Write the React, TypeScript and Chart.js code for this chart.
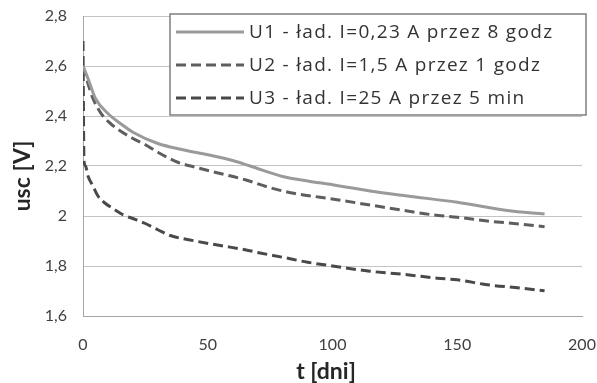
import { useEffect, useRef } from "react";
import { Chart, registerables } from "chart.js";
Chart.register(...registerables);

const seriesLabels = [
  "U1 - ład. I=0,23 A przez 8 godz",
  "U2 - ład. I=1,5 A przez 1 godz",
  "U3 - ład. I=25 A przez 5 min",
];

const u1Days = [0, 2, 5, 10, 15, 20, 30, 40, 50, 60, 67, 80, 90, 100, 115, 130, 150, 170, 185];
const u1Volts = [2.6, 2.55, 2.47, 2.41, 2.37, 2.335, 2.29, 2.265, 2.245, 2.222, 2.2, 2.158, 2.14, 2.125, 2.1, 2.08, 2.055, 2.022, 2.008];

const u2Days = [0, 2, 4, 6, 8, 11, 15, 20, 25, 30, 38, 45, 55, 65, 75, 85, 95, 105, 115, 130, 140, 150, 162, 175, 185];
const u2Volts = [2.6, 2.53, 2.47, 2.43, 2.4, 2.37, 2.34, 2.31, 2.285, 2.255, 2.215, 2.195, 2.17, 2.145, 2.113, 2.09, 2.075, 2.06, 2.044, 2.02, 2.005, 1.995, 1.98, 1.968, 1.957];

const u3Days = [0, 0.4, 1, 2, 4, 6, 9, 12, 16, 20, 25, 30, 35, 45, 55, 65, 71, 80, 90, 100, 115, 130, 142, 150, 162, 175, 185];
const u3Volts = [2.7, 2.22, 2.2, 2.16, 2.12, 2.08, 2.05, 2.03, 2.005, 1.99, 1.97, 1.945, 1.922, 1.9, 1.882, 1.865, 1.852, 1.835, 1.815, 1.8, 1.779, 1.765, 1.751, 1.745, 1.725, 1.712, 1.701];

const yTickLabels = ["1,6", "1,8", "2", "2,2", "2,4", "2,6", "2,8"];
const xTickValues = [0, 50, 100, 150, 200];
const xTitle = "t [dni]";
const yTitle = "usc [V]";

const toPoints = (xs: number[], ys: number[]) => xs.map((x, i) => ({ x, y: ys[i] }));

const FONT = "Lato, 'Open Sans', sans-serif";
const LEGEND_FONT = "'Open Sans', Lato, sans-serif";

const overlayPlugin = {
  id: "overlay",
  afterDraw(chart: any) {
    const ctx = chart.ctx;
    ctx.save();
    ctx.font = `bold 23px ${FONT}`;
    ctx.fillStyle = "#262626";
    ctx.textAlign = "center";
    ctx.textBaseline = "middle";
    ctx.fillText(xTitle, 326, 372);
    ctx.translate(23, 176);
    ctx.rotate(-Math.PI / 2);
    ctx.fillText(yTitle, 0, 0);
    ctx.restore();

    ctx.save();
    const bx = 170, by = 14, bw = 416, bh = 101;
    ctx.fillStyle = "#ffffff";
    ctx.fillRect(bx, by, bw, bh);
    ctx.strokeStyle = "#7f7f7f";
    ctx.lineWidth = 1.5;
    ctx.strokeRect(bx, by, bw, bh);
    const rows = [32, 65, 98];
    chart.data.datasets.forEach((ds: any, i: number) => {
      const y = rows[i];
      ctx.beginPath();
      ctx.setLineDash(ds.borderDash || []);
      ctx.strokeStyle = ds.borderColor;
      ctx.lineWidth = ds.borderWidth;
      ctx.moveTo(176, y);
      ctx.lineTo(244, y);
      ctx.stroke();
      ctx.setLineDash([]);
      ctx.font = `19px ${LEGEND_FONT}`;
      try { (ctx as any).letterSpacing = "1.3px"; } catch (e) {}
      ctx.fillStyle = "#333333";
      ctx.textAlign = "left";
      ctx.textBaseline = "middle";
      ctx.fillText(ds.label, 249, y + 1);
      try { (ctx as any).letterSpacing = "0px"; } catch (e) {}
    });
    ctx.restore();
  },
};

export default function App() {
  const ref = useRef<HTMLCanvasElement | null>(null);
  useEffect(() => {
    if (!ref.current) return;
    const chart = new Chart(ref.current, {
      type: "line",
      data: {
        datasets: [
          {
            label: seriesLabels[0],
            data: toPoints(u1Days, u1Volts),
            borderColor: "#9a9a9a",
            borderWidth: 3,
            pointRadius: 0,
            cubicInterpolationMode: "monotone",
          },
          {
            label: seriesLabels[1],
            data: toPoints(u2Days, u2Volts),
            borderColor: "#5e5e5e",
            borderWidth: 3,
            borderDash: [10, 5],
            pointRadius: 0,
            cubicInterpolationMode: "monotone",
          },
          {
            label: seriesLabels[2],
            data: toPoints(u3Days, u3Volts),
            borderColor: "#494949",
            borderWidth: 3,
            borderDash: [10, 5],
            pointRadius: 0,
            cubicInterpolationMode: "monotone",
          },
        ] as any,
      },
      options: {
        responsive: false,
        animation: false,
        layout: { padding: { top: 16, right: 15, left: 0, bottom: 0 } },
        plugins: { legend: { display: false }, tooltip: { enabled: false } },
        scales: {
          x: {
            type: "linear",
            min: 0,
            max: 200,
            afterFit: (s: any) => { s.height = 67; s.paddingLeft = 0; s.paddingRight = 0; },
            afterBuildTicks: (s: any) => { s.ticks = xTickValues.map((v) => ({ value: v })); },
            grid: { display: false, drawTicks: false },
            border: { display: true, color: "#a6a6a6", width: 1 },
            ticks: {
              padding: 19,
              color: "#404040",
              font: { family: FONT, size: 16 },
              maxRotation: 0,
            },
          },
          y: {
            type: "linear",
            min: 1.6,
            max: 2.8,
            afterFit: (s: any) => { s.width = 83; s.paddingTop = 0; s.paddingBottom = 0; },
            grid: { color: "#c4c4c4", lineWidth: 1, drawTicks: false },
            border: { display: true, color: "#a6a6a6", width: 1 },
            ticks: {
              stepSize: 0.2,
              padding: 16,
              color: "#404040",
              font: { family: FONT, size: 16 },
              callback: (_v: any, i: number) => yTickLabels[i],
            },
          },
        },
      } as any,
      plugins: [overlayPlugin],
    });
    return () => chart.destroy();
  }, []);
  return (
    <div style={{ position: "absolute", left: 0, top: 0, width: 597, height: 383, background: "#fff" }}>
      <canvas ref={ref} width={597} height={383} />
    </div>
  );
}
